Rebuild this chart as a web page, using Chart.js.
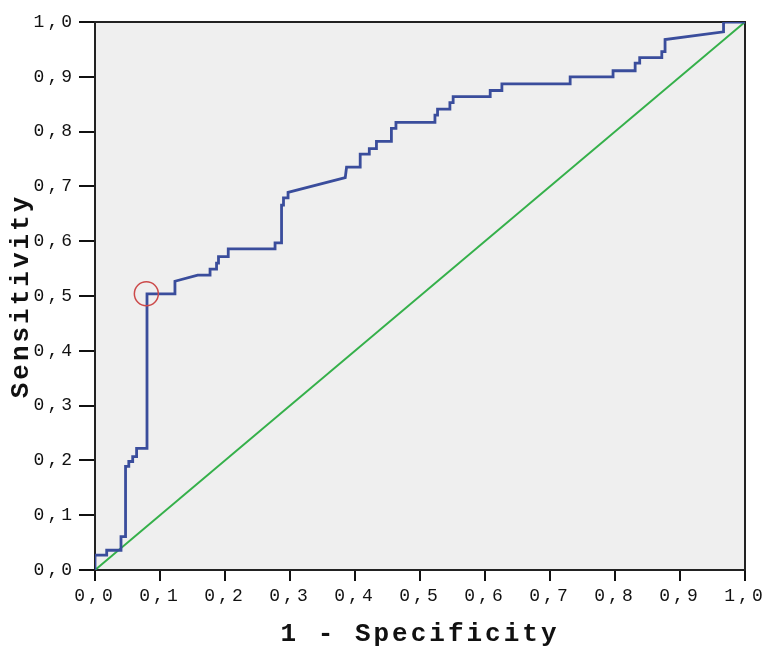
<!DOCTYPE html>
<html>
<head>
<meta charset="utf-8">
<script src="https://cdn.jsdelivr.net/npm/chart.js@4/dist/chart.umd.min.js"></script>
<style>
  html, body { margin: 0; padding: 0; background: #ffffff; }
  #wrap { width: 771px; height: 659px; }
</style>
</head>
<body>
<div id="wrap"><canvas id="c" width="771" height="659"></canvas></div>
<script>
// ROC curve: 1 - specificity (x) and sensitivity (y)
const rocFpr = [0, 0, 0.018, 0.018, 0.04, 0.04, 0.047, 0.047, 0.052, 0.052, 0.058, 0.058, 0.064, 0.064, 0.08, 0.08,
  0.123, 0.123, 0.158, 0.177, 0.177, 0.187, 0.187, 0.19, 0.19, 0.205, 0.205, 0.277, 0.277, 0.287, 0.287, 0.29, 0.29,
  0.297, 0.297, 0.385, 0.387, 0.408, 0.408, 0.422, 0.422, 0.433, 0.433, 0.456, 0.456, 0.463, 0.463, 0.523, 0.523,
  0.527, 0.527, 0.546, 0.546, 0.551, 0.551, 0.608, 0.608, 0.626, 0.626, 0.731, 0.731, 0.797, 0.797, 0.831, 0.831,
  0.838, 0.838, 0.872, 0.872, 0.877, 0.877, 0.967, 0.967, 1.0];
const rocTpr = [0, 0.027, 0.027, 0.036, 0.036, 0.061, 0.061, 0.189, 0.189, 0.198, 0.198, 0.207, 0.207, 0.222, 0.222, 0.504,
  0.504, 0.527, 0.538, 0.538, 0.549, 0.549, 0.56, 0.56, 0.572, 0.572, 0.586, 0.586, 0.597, 0.597, 0.666, 0.666, 0.679,
  0.679, 0.689, 0.716, 0.735, 0.735, 0.759, 0.759, 0.769, 0.769, 0.782, 0.782, 0.806, 0.806, 0.817, 0.817, 0.830,
  0.830, 0.841, 0.841, 0.853, 0.853, 0.864, 0.864, 0.875, 0.875, 0.887, 0.887, 0.900, 0.900, 0.911, 0.911, 0.925,
  0.925, 0.935, 0.935, 0.946, 0.946, 0.968, 0.982, 1.0, 1.0];
// Reference (chance) line
const diagX = [0, 1];
const diagY = [0, 1];
// Highlighted cut-off point
const cutX = [0.079];
const cutY = [0.504];
// Axis tick values
const tickValues = [0, 0.1, 0.2, 0.3, 0.4, 0.5, 0.6, 0.7, 0.8, 0.9, 1.0];

const xLabel = '1 - Specificity';
const yLabel = 'Sensitivity';

const toPts = (xs, ys) => xs.map((x, i) => ({ x: x, y: ys[i] }));
const fmt = v => Number(v).toFixed(1).replace('.', ',');

const FONT = "'Liberation Mono', 'Courier New', monospace";

const spacingPlugin = {
  id: 'spacing',
  beforeUpdate(chart) { chart.ctx.letterSpacing = '3px'; },
  beforeDraw(chart) {
    chart.ctx.letterSpacing = '3px';
    const a = chart.chartArea, ctx = chart.ctx;
    ctx.save();
    ctx.fillStyle = '#efefef';
    ctx.fillRect(a.left, a.top, a.right - a.left, a.bottom - a.top);
    ctx.restore();
  },
  beforeDatasetsDraw(chart) {
    const a = chart.chartArea, ctx = chart.ctx;
    ctx.save();
    ctx.strokeStyle = '#222';
    ctx.lineWidth = 2;
    ctx.strokeRect(a.left, a.top, a.right - a.left, a.bottom - a.top);
    ctx.restore();
  }
};

new Chart(document.getElementById('c'), {
  type: 'scatter',
  data: {
    datasets: [
      {
        data: toPts(diagX, diagY),
        showLine: true,
        borderColor: '#35b04a',
        borderWidth: 2,
        pointRadius: 0,
        order: 2
      },
      {
        data: toPts(rocFpr, rocTpr),
        showLine: true,
        borderColor: '#3a4d9c',
        borderWidth: 2.8,
        pointRadius: 0,
        tension: 0,
        order: 1
      },
      {
        data: toPts(cutX, cutY),
        showLine: false,
        pointStyle: 'circle',
        pointRadius: 12,
        borderColor: '#cc4a4a',
        borderWidth: 1.5,
        backgroundColor: 'rgba(0,0,0,0)',
        order: 0
      }
    ]
  },
  options: {
    responsive: false,
    animation: false,
    events: [],
    layout: { padding: { top: 22, right: 26, left: 0, bottom: 0 } },
    plugins: { legend: { display: false }, tooltip: { enabled: false } },
    scales: {
      x: {
        type: 'linear',
        min: 0, max: 1,
        afterBuildTicks: s => { s.ticks = tickValues.map(v => ({ value: v })); },
        afterFit: s => { s.height = 89; },
        ticks: {
          callback: v => fmt(v),
          color: '#111',
          font: { family: FONT, size: 18 },
          padding: 4,
          maxRotation: 0,
          autoSkip: false
        },
        grid: { drawOnChartArea: false, drawTicks: true, tickLength: 11, color: '#111', lineWidth: 2 },
        border: { display: true, color: '#111', width: 2 },
        title: {
          display: true,
          text: xLabel,
          color: '#111',
          font: { family: FONT, size: 26, weight: 'bold' },
          padding: { top: 0, bottom: 9 }
        }
      },
      y: {
        type: 'linear',
        min: 0, max: 1,
        afterBuildTicks: s => { s.ticks = tickValues.map(v => ({ value: v })); },
        afterFit: s => { s.width = 95; },
        ticks: {
          callback: v => fmt(v),
          color: '#111',
          font: { family: FONT, size: 18 },
          padding: 4,
          autoSkip: false
        },
        grid: { drawOnChartArea: false, drawTicks: true, tickLength: 16, color: '#111', lineWidth: 2 },
        border: { display: true, color: '#111', width: 2 },
        title: {
          display: true,
          text: yLabel,
          color: '#111',
          font: { family: FONT, size: 26, weight: 'bold' },
          padding: { top: 6, bottom: 0 }
        }
      }
    }
  },
  plugins: [spacingPlugin]
});
</script>
</body>
</html>
